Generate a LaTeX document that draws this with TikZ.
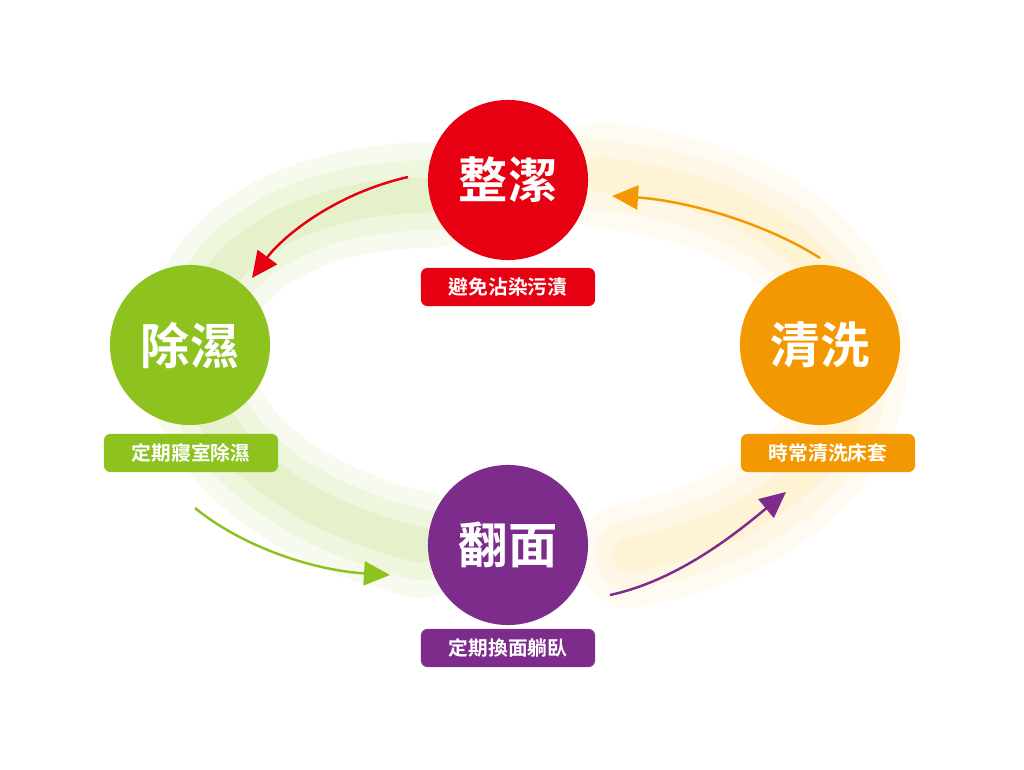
\documentclass[tikz,border=0pt]{standalone}
\usepackage{fontspec}
\newfontfamily\cjk{Noto Sans CJK TC}[BoldFont={* Bold}]
\usetikzlibrary{arrows.meta}
\definecolor{cred}{HTML}{E60012}
\definecolor{cgreen}{HTML}{8DC21F}
\definecolor{corange}{HTML}{F39800}
\definecolor{cpurple}{HTML}{7D2C8C}
\definecolor{cyel}{HTML}{F9C94A}
\tikzset{
  bigc/.style={circle,minimum size=1.6cm,inner sep=0pt,text=white,font=\cjk\bfseries\fontsize{14}{14}\selectfont},
  lab/.style={rounded corners=1.8pt,minimum width=1.74cm,minimum height=0.38cm,inner sep=0pt,text=white,font=\cjk\bfseries\fontsize{5.6}{6}\selectfont},
  arr/.style={line width=0.7pt,-{Triangle[length=2.6mm,width=2.4mm]}}
}
\begin{document}
\begin{tikzpicture}[x=0.01cm,y=-0.01cm]
\useasboundingbox (0,0) rectangle (1024,770);
% glow
\foreach \w/\o in {30/0.07,20/0.08,10/0.1}{
  \draw[cgreen,line width=\w pt,opacity=\o,line cap=round] (430,195) .. controls (130,200) and (110,470) .. (420,545);
  \draw[cyel,line width=\w pt,opacity=\o,line cap=round] (600,175) .. controls (940,210) and (930,500) .. (630,555);
}
% circles
\node[bigc,fill=cred] (r) at (508,180) {整潔};
\node[bigc,fill=cgreen] (g) at (190,345) {除濕};
\node[bigc,fill=corange] (o) at (820,345) {清洗};
\node[bigc,fill=cpurple] (p) at (508,545) {翻面};
\node[lab,fill=cred] (rl) at (508,287) {避免沾染污漬};
\node[lab,fill=cgreen] (gl) at (191,453) {定期寢室除濕};
\node[lab,fill=corange] (ol) at (828,453) {時常清洗床套};
\node[lab,fill=cpurple] (pl) at (508,648) {定期換面躺臥};
% arrows
\coordinate (a1) at (408,177); \coordinate (a2) at (252,278);
\coordinate (b1) at (195,508); \coordinate (b2) at (390,575);
\coordinate (c1) at (610,595); \coordinate (c2) at (786,492);
\coordinate (d1) at (820,258); \coordinate (d2) at (612,196);
\draw[arr,cred] (a1) .. controls (330,195) and (280,240) .. (a2);
\draw[arr,cgreen] (b1) .. controls (240,545) and (310,570) .. (b2);
\draw[arr,cpurple] (c1) .. controls (680,580) and (740,530) .. (c2);
\draw[arr,corange] (d1) .. controls (760,220) and (680,200) .. (d2);
\end{tikzpicture}
\end{document}
